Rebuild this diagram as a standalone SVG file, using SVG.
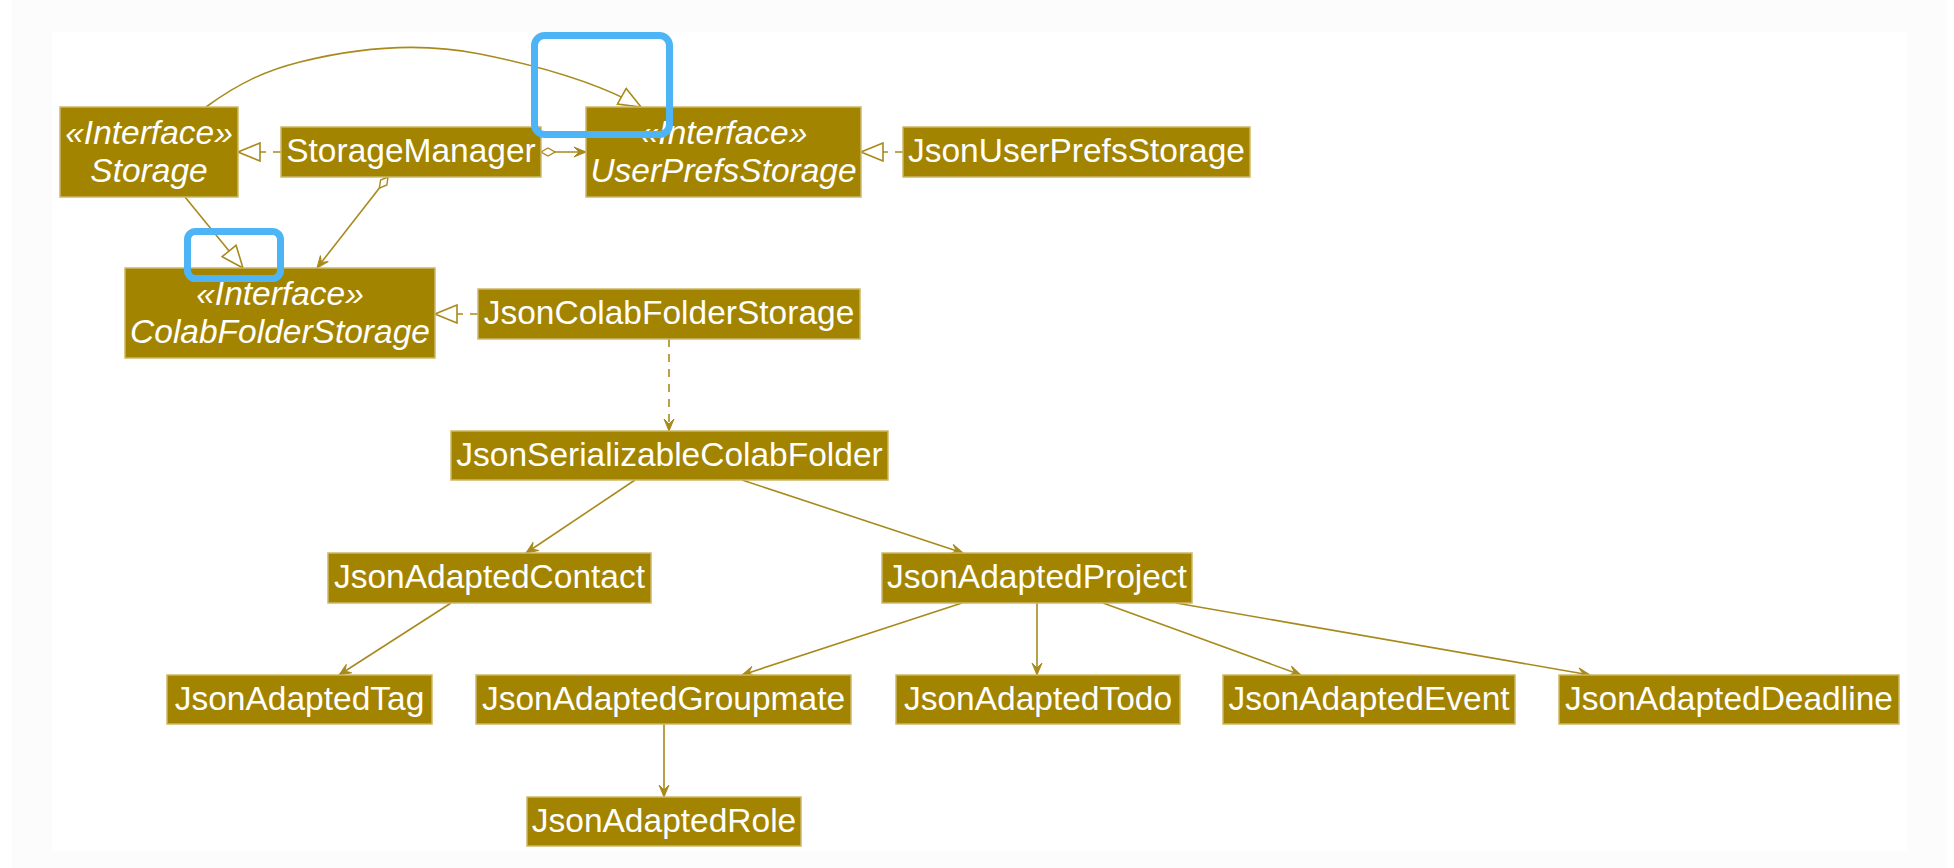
<svg xmlns="http://www.w3.org/2000/svg" width="1954" height="868" viewBox="0 0 1954 868">
<style>
.box{fill:#A38400;stroke:#CDB868;stroke-width:1.5}
.t{font-family:"Liberation Sans",Arial,sans-serif;font-size:33.5px;fill:#FFFFFF;text-anchor:middle}
.i{font-style:italic}
.e{fill:none;stroke:#A88A1C;stroke-width:1.6}
.d{stroke-dasharray:8,7}
.hl{fill:none;stroke:#4DB5F6;stroke-width:7}
</style>
<defs>
<marker id="tri" viewBox="0 0 24 20" refX="23" refY="10" markerWidth="24" markerHeight="20" markerUnits="userSpaceOnUse" orient="auto">
<path d="M1,1 L23,10 L1,19 Z" fill="#FFFFFF" stroke="#A88A1C" stroke-width="1.6"/>
</marker>
<marker id="arr" viewBox="0 0 14 12" refX="13" refY="6" markerWidth="14" markerHeight="12" markerUnits="userSpaceOnUse" orient="auto">
<path d="M13,6 L1,1 L6,6 L1,11 Z" fill="#A88A1C" stroke="#A88A1C" stroke-width="1"/>
</marker>
<marker id="dia" viewBox="0 0 16 10" refX="1" refY="5" markerWidth="16" markerHeight="10" markerUnits="userSpaceOnUse" orient="auto">
<path d="M1,5 L8,1 L15,5 L8,9 Z" fill="#FFFFFF" stroke="#A88A1C" stroke-width="1.4"/>
</marker>
</defs>
<rect x="0" y="0" width="1954" height="868" fill="#FFFFFF"/>
<rect x="12" y="0" width="1934" height="868" fill="#FCFCFC"/>
<rect x="52" y="32" width="1855" height="819" fill="#FFFFFF"/>

<g id="connectors">
<path class="e" d="M206,107 C240,82 268,70 300,62 C360,47 420,42 480,54 C540,66 600,84 641,107" marker-end="url(#tri)"/>
<path class="e d" d="M281,152 L238,152" marker-end="url(#tri)"/>
<path class="e" d="M541,152 L586,152" marker-start="url(#dia)" marker-end="url(#arr)"/>
<path class="e d" d="M903,152 L861,152" marker-end="url(#tri)"/>
<path class="e" d="M185,197 L243,268" marker-end="url(#tri)"/>
<path class="e" d="M388,177 L317,268" marker-start="url(#dia)" marker-end="url(#arr)"/>
<path class="e d" d="M478,314 L435,314" marker-end="url(#tri)"/>
<path class="e d" d="M669,339 L669,431" marker-end="url(#arr)"/>
<path class="e" d="M635,480 L526,553" marker-end="url(#arr)"/>
<path class="e" d="M742,480 L963,553" marker-end="url(#arr)"/>
<path class="e" d="M451,603 L339,675" marker-end="url(#arr)"/>
<path class="e" d="M962,603 L742,675" marker-end="url(#arr)"/>
<path class="e" d="M1037,603 L1037,675" marker-end="url(#arr)"/>
<path class="e" d="M1103,603 L1301,675" marker-end="url(#arr)"/>
<path class="e" d="M1176,603 L1590,675" marker-end="url(#arr)"/>
<path class="e" d="M664,724 L664,797" marker-end="url(#arr)"/>
</g>

<g id="Storage">
<rect class="box" x="60" y="107" width="178" height="90"/>
<text class="t i" x="149" y="144">«Interface»</text>
<text class="t i" x="149" y="182">Storage</text>
</g>
<g id="StorageManager">
<rect class="box" x="281" y="127" width="260" height="50"/>
<text class="t" x="411" y="162">StorageManager</text>
</g>
<g id="UserPrefsStorage">
<rect class="box" x="586" y="107" width="275" height="90"/>
<text class="t i" x="723.5" y="144">«Interface»</text>
<text class="t i" x="723.5" y="182">UserPrefsStorage</text>
</g>
<g id="JsonUserPrefsStorage">
<rect class="box" x="903" y="127" width="347" height="50"/>
<text class="t" x="1076.5" y="162">JsonUserPrefsStorage</text>
</g>
<g id="ColabFolderStorage">
<rect class="box" x="125" y="268" width="310" height="90"/>
<text class="t i" x="280" y="305">«Interface»</text>
<text class="t i" x="280" y="343">ColabFolderStorage</text>
</g>
<g id="JsonColabFolderStorage">
<rect class="box" x="478" y="289" width="382" height="50"/>
<text class="t" x="669" y="324">JsonColabFolderStorage</text>
</g>
<g id="JsonSerializableColabFolder">
<rect class="box" x="451" y="431" width="437" height="49"/>
<text class="t" x="669.5" y="466">JsonSerializableColabFolder</text>
</g>
<g id="JsonAdaptedContact">
<rect class="box" x="328" y="553" width="323" height="50"/>
<text class="t" x="489.5" y="588">JsonAdaptedContact</text>
</g>
<g id="JsonAdaptedProject">
<rect class="box" x="882" y="553" width="310" height="50"/>
<text class="t" x="1037" y="588">JsonAdaptedProject</text>
</g>
<g id="JsonAdaptedTag">
<rect class="box" x="167" y="675" width="265" height="49"/>
<text class="t" x="299.5" y="710">JsonAdaptedTag</text>
</g>
<g id="JsonAdaptedGroupmate">
<rect class="box" x="476" y="675" width="375" height="49"/>
<text class="t" x="663.5" y="710">JsonAdaptedGroupmate</text>
</g>
<g id="JsonAdaptedTodo">
<rect class="box" x="896" y="675" width="284" height="49"/>
<text class="t" x="1038" y="710">JsonAdaptedTodo</text>
</g>
<g id="JsonAdaptedEvent">
<rect class="box" x="1223" y="675" width="292" height="49"/>
<text class="t" x="1369" y="710">JsonAdaptedEvent</text>
</g>
<g id="JsonAdaptedDeadline">
<rect class="box" x="1559" y="675" width="340" height="49"/>
<text class="t" x="1729" y="710">JsonAdaptedDeadline</text>
</g>
<g id="JsonAdaptedRole">
<rect class="box" x="527" y="797" width="274" height="49"/>
<text class="t" x="664" y="832">JsonAdaptedRole</text>
</g>

<g id="highlights">
<rect class="hl" x="534.5" y="35.5" width="135" height="99" rx="10"/>
<rect class="hl" x="187.5" y="231.5" width="93" height="47" rx="8"/>
</g>
</svg>
